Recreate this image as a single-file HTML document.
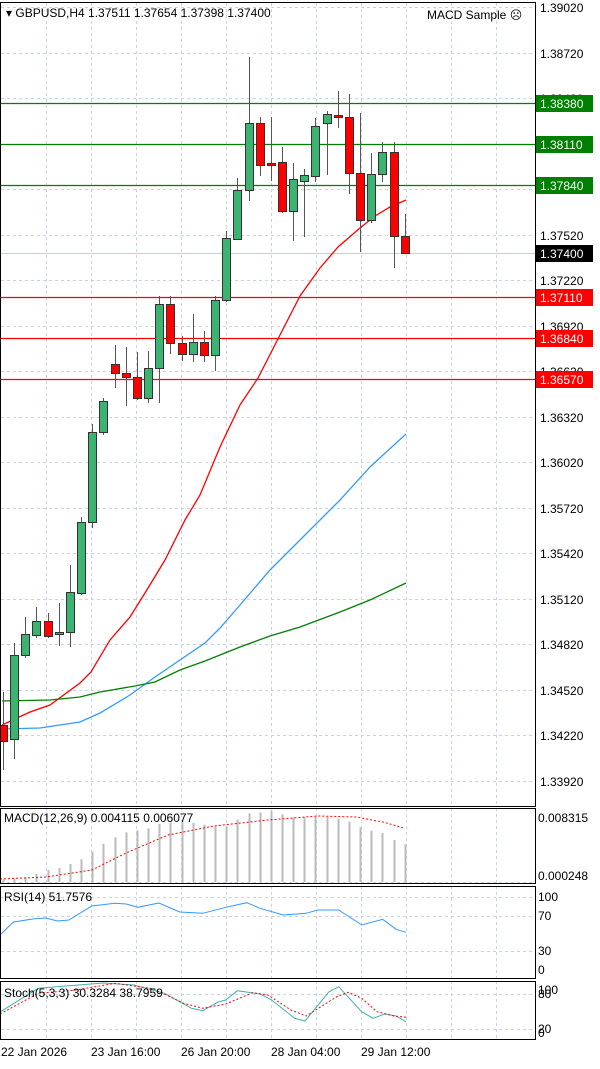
<!DOCTYPE html>
<html><head><meta charset="utf-8"><style>
body{margin:0;background:#fff;}
svg text{font-family:"Liberation Sans",sans-serif;font-size:12px;fill:#000;}
</style></head><body>
<svg id="s" width="600" height="1064" xmlns="http://www.w3.org/2000/svg">
<rect width="600" height="1064" fill="#fff"/>
<g id="grid" stroke="#c8d4e4" stroke-dasharray="3,3" stroke-width="1"></g>
<g id="lv"></g>
<g id="ma" fill="none" stroke-width="1.3"></g>
<g id="cd"></g>
<g id="ind"></g>
<g id="frame" fill="none" stroke="#000"></g>
<g id="lab"></g>
</svg>
<script>
const NS="http://www.w3.org/2000/svg";
function el(p,t,a,txt){const e=document.createElementNS(NS,t);for(const k in a)e.setAttribute(k,a[k]);if(txt!==undefined)e.textContent=txt;document.getElementById(p).appendChild(e);return e;}
// grid
const gx=[46,91,136,181,226,271,316,361,406,451,496];
const ticks=[["1.39020",7],["1.38720",53],["1.38420",98],["1.38120",144],["1.37820",189],["1.37520",235],["1.37220",280],["1.36920",326],["1.36620",371],["1.36320",417],["1.36020",462],["1.35720",508],["1.35420",553],["1.35120",599],["1.34820",644],["1.34520",690],["1.34220",735],["1.33920",781]];
gx.forEach(x=>{[[3,806],[808,883],[886,978],[981,1039]].forEach(r=>el("grid","line",{x1:x+.5,x2:x+.5,y1:r[0],y2:r[1]}));});
ticks.forEach(t=>el("grid","line",{x1:1,x2:535,y1:t[1]+.5,y2:t[1]+.5}));
[897,916,951,994,1029,882].forEach(y=>el("grid","line",{x1:1,x2:535,y1:y+.5,y2:y+.5}));
// levels
el("lv","line",{x1:0,x2:535,y1:253.5,y2:253.5,stroke:"#c0d0e8"});
[[103,"#008000"],[144,"#008000"],[185,"#008000"],[297,"#ff0000"],[338,"#ff0000"],[379,"#ff0000"]].forEach(l=>el("lv","line",{x1:0,x2:535,y1:l[0]+.5,y2:l[0]+.5,stroke:l[1],"stroke-width":1.3}));
// MAs
function pl(g,pts,col,extra){const a=Object.assign({points:pts.map(p=>p.join(",")).join(" "),stroke:col,fill:"none"},extra||{});return el(g,"polyline",a);}
pl("ma",[[2,725],[30,712],[50,705],[80,683],[91,672],[110,640],[130,617],[145,593],[165,560],[185,520],[200,495],[220,447],[240,405],[258,378],[280,335],[300,296],[320,268],[338,247],[360,228],[375,216],[390,207],[406,200]],"#ff0000");
pl("ma",[[2,729],[40,728],[80,722],[100,713],[130,695],[155,677],[180,660],[205,643],[220,628],[240,605],[270,570],[300,540],[340,500],[370,467],[406,434]],"#3399ff");
pl("ma",[[2,701],[50,700],[80,697],[100,692],[135,686],[155,682],[180,670],[205,661],[240,647],[270,636],[300,627],[340,612],[370,600],[406,583]],"#008000");
// candles: [bodyTop,bodyBot,wickTop,wickBot,green]
const C=[[725,741,692,770,0],[655,739,643,759,1],[634,655,617,658,1],[621,635,607,638,1],[621,636,613,638,0],[632,634,603,646,1],[592,632,565,647,1],[522,593,517,595,1],[432,522,424,528,1],[401,432,398,435,1],[364,373,345,388,0],[373,377,347,406,0],[377,398,352,400,0],[368,398,351,403,1],[304,368,296,403,1],[304,343,296,354,0],[343,354,336,361,0],[342,354,314,362,1],[342,355,331,362,0],[300,355,296,371,1],[238,300,231,302,1],[190,239,178,240,1],[123,190,57,201,1],[123,165,117,176,0],[163,165,117,181,0],[162,211,147,213,0],[179,211,163,241,1],[175,181,169,237,1],[126,176,118,182,1],[114,123,111,175,1],[115,117,91,128,0],[117,173,94,194,0],[173,220,113,252,0],[174,220,153,223,1],[152,174,142,182,1],[152,236,142,268,0],[236,253,214,253,0]];
C.forEach((c,i)=>{const x=Math.round(3+11.16*i);
el("cd","line",{x1:x+.5,x2:x+.5,y1:c[2],y2:c[3],stroke:"#555"});
el("cd","rect",{x:x-4+.5,y:c[0]+.5,width:8,height:Math.max(c[1]-c[0],1),fill:c[4]?"#3cb371":"#ff0000",stroke:"#333"});});
// MACD bars
const mb=[238,235,232,222,210,204,192,178,155,131,112,97,91,85,72,68,67,69,74,79,79,59,40,37,33,43,52,52,51,51,56,65,82,92,99,120,133];
mb.forEach((t,i)=>{const x=Math.round(3+11.16*i)+.5;el("ind","line",{x1:x,x2:x,y1:800+t/3,y2:882,stroke:"#bbb","stroke-width":2});});
function tp(pts){return pts.map(p=>[(p[0]/2.613).toFixed(1),(800+p[1]/3).toFixed(1)]);}
pl("ind",[[0,879],[46,877],[92,870],[126,853],[168,835],[214,826],[268,820],[318,816],[356,817],[383,822],[404,828]],"#ff0000",{"stroke-dasharray":"2,2"});
pl("ind",tp([[0,405],[35,366],[90,356],[120,354],[150,363],[180,360],[240,318],[300,310],[330,312],[360,322],[415,309],[470,336],[530,340],[590,322],[645,308],[680,325],[740,345],[800,340],[830,330],[885,330],[945,375],[1000,358],[1035,388],[1061,397]]),"#3399ff");
pl("ind",tp([[0,636],[100,565],[270,549],[350,555],[430,580],[500,625],[530,632],[570,606],[590,600],[620,572],[680,582],[710,600],[770,655],[797,663],[860,575],[885,560],[945,635],[975,655],[1005,642],[1035,648],[1061,665]]),"#40b0b0");
pl("ind",tp([[0,642],[100,580],[200,570],[300,550],[400,566],[480,610],[530,625],[590,612],[660,578],[700,585],[760,630],[800,648],[880,590],[910,577],[945,595],[985,635],[1030,648],[1061,652]]),"#ff0000",{"stroke-dasharray":"2,2"});
// frames
[[0.5,2.5,535,804],[0.5,808.5,535,75],[0.5,886.5,535,92],[0.5,981.5,535,58]].forEach(r=>el("frame","rect",{x:r[0],y:r[1],width:r[2],height:r[3]}));
// labels
ticks.forEach(t=>el("lab","text",{x:540,y:t[1]+5},t[0]));
[[103,"1.38380","#008000"],[144,"1.38110","#008000"],[185,"1.37840","#008000"],[253,"1.37400","#000"],[297,"1.37110","#ff0000"],[338,"1.36840","#ff0000"],[379,"1.36570","#ff0000"]].forEach(l=>{el("lab","rect",{x:536,y:l[0]-8,width:57,height:17,fill:l[2]});el("lab","text",{x:540,y:l[0]+5,style:"fill:#fff"},l[1]);});
el("lab","text",{x:6,y:17},"▾ GBPUSD,H4  1.37511 1.37654 1.37398 1.37400");
el("lab","text",{x:427,y:19},"MACD Sample ☹");
el("lab","text",{x:4,y:822},"MACD(12,26,9) 0.004115 0.006077");
el("lab","text",{x:538,y:822},"0.008315");
el("lab","text",{x:538,y:880},"0.000248");
el("lab","text",{x:4,y:901},"RSI(14) 51.7576");
[["100",901],["70",920],["30",955],["0",974]].forEach(t=>el("lab","text",{x:538,y:t[1]},t[0]));
el("lab","text",{x:4,y:997},"Stoch(5,3,3) 30.3284 38.7959");
[["100",994],["80",998],["20",1033],["0",1037]].forEach(t=>el("lab","text",{x:538,y:t[1]},t[0]));
[["22 Jan 2026",1],["23 Jan 16:00",91],["26 Jan 20:00",181],["28 Jan 04:00",271],["29 Jan 12:00",361]].forEach(d=>el("lab","text",{x:d[1],y:1056},d[0]));
</script>
</body></html>
